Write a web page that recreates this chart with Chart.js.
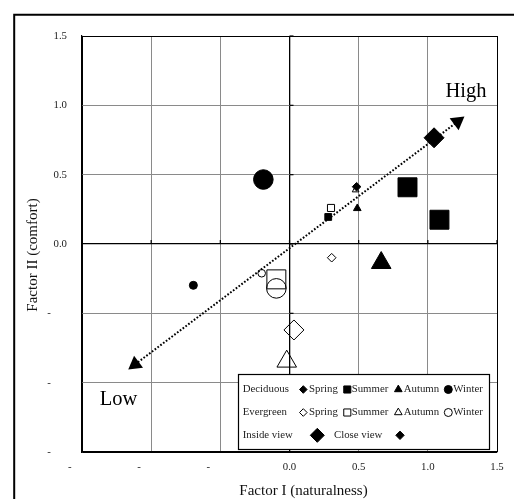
<!DOCTYPE html>
<html>
<head>
<meta charset="utf-8">
<script src="https://cdn.jsdelivr.net/npm/chart.js@4.4.0/dist/chart.umd.min.js"></script>
<style>
  html, body { margin: 0; padding: 0; background: #fff; }
  #wrap { position: relative; width: 514px; height: 499px; }
</style>
</head>
<body>
<div id="wrap"><canvas id="factorChart"></canvas></div>
<script>
// seasons, order used by every series below
const seasons = ['Spring', 'Summer', 'Autumn', 'Winter'];
const tickValues = [-1.5, -1.0, -0.5, 0.0, 0.5, 1.0, 1.5];

// Deciduous (filled marks)
const decInsideX = [1.045, 0.853, 0.663, -0.189];
const decInsideY = [0.766, 0.409, -0.136, 0.465];
const decCloseX = [0.485, 0.280, 0.490, -0.695];
const decCloseY = [0.413, 0.195, 0.257, -0.298];
// second large filled square
const decExtraX = [1.084];
const decExtraY = [0.175];

// Evergreen (open marks)
const evgInsideX = [0.032, -0.095, -0.020, -0.095];
const evgInsideY = [-0.620, -0.255, -0.847, -0.320];
const evgCloseX = [0.305, 0.300, 0.478, -0.201];
const evgCloseY = [-0.099, 0.260, 0.390, -0.211];

// Low -> High arrow
const trendX = [-1.116, 1.215];
const trendY = [-0.868, 0.882];

const shapes = ['rectRot', 'rect', 'triangle', 'circle'];
const bigRadius = [10, 13.4, 11.3, 9.8];
const smallRadius = [4.3, 4.8, 4.4, 4];
const serif = "'Liberation Serif', 'Times New Roman', serif";

function pts(xs, ys) {
    return xs.map((x, i) => ({ x: x, y: ys[i] }));
}

function markSet(label, xs, ys, radii, filled) {
    return {
        label: label,
        data: pts(xs, ys),
        pointStyle: ctx => shapes[ctx.dataIndex],
        pointRadius: ctx => radii[ctx.dataIndex],
        pointBackgroundColor: filled ? '#000' : 'rgba(0,0,0,0)',
        pointBorderColor: '#000',
        pointBorderWidth: 1,
        order: filled ? 1 : 2
    };
}

function drawMark(ctx, style, x, y, r, filled) {
    ctx.beginPath();
    if (style === 'circle') {
        ctx.arc(x, y, r, 0, Math.PI * 2);
    } else if (style === 'rect') {
        const s = r * Math.SQRT1_2;
        ctx.rect(x - s, y - s, 2 * s, 2 * s);
    } else if (style === 'rectRot') {
        ctx.moveTo(x - r, y); ctx.lineTo(x, y - r); ctx.lineTo(x + r, y); ctx.lineTo(x, y + r);
        ctx.closePath();
    } else {
        ctx.moveTo(x, y - r); ctx.lineTo(x + 0.866 * r, y + 0.5 * r); ctx.lineTo(x - 0.866 * r, y + 0.5 * r);
        ctx.closePath();
    }
    ctx.fillStyle = filled ? '#000' : '#fff';
    ctx.fill();
    ctx.lineWidth = 1;
    ctx.strokeStyle = '#000';
    ctx.stroke();
}

// small tick marks on the zero axes
const zeroTicks = {
    id: 'zeroTicks',
    beforeDatasetsDraw(chart) {
        const { ctx, scales: { x, y } } = chart;
        const x0 = x.getPixelForValue(0), y0 = y.getPixelForValue(0);
        ctx.save();
        ctx.strokeStyle = '#000';
        ctx.lineWidth = 1.2;
        tickValues.forEach(v => {
            const py = y.getPixelForValue(v);
            ctx.beginPath(); ctx.moveTo(x0, py); ctx.lineTo(x0 + 4, py); ctx.stroke();
            const px = x.getPixelForValue(v);
            ctx.beginPath(); ctx.moveTo(px, y0); ctx.lineTo(px, y0 - 4); ctx.stroke();
        });
        ctx.restore();
    }
};

// legend box, labels, titles and frame
const decorations = {
    id: 'decorations',
    afterDatasetsDraw(chart) {
        const ctx = chart.ctx;
        ctx.save();
        // legend box
        ctx.fillStyle = '#fff';
        ctx.fillRect(238.5, 374.5, 251, 75);
        ctx.strokeStyle = '#000';
        ctx.lineWidth = 1.2;
        ctx.strokeRect(238.5, 374.5, 251, 75);

        ctx.font = '10.8px ' + serif;
        ctx.textBaseline = 'middle';
        ctx.textAlign = 'left';
        const markX = [303.3, 347.3, 398.3, 448.3];
        const textX = [309, 351.7, 403.7, 453.3];
        const legR = [3.8, 5, 4.4, 4];
        const rows = [['Deciduous', 389.5, true], ['Evergreen', 412.5, false]];
        rows.forEach(([name, ry, filled]) => {
            ctx.fillStyle = '#222';
            ctx.fillText(name, 242.7, ry);
            seasons.forEach((s, i) => {
                drawMark(ctx, shapes[i], markX[i], ry, legR[i], filled);
                ctx.fillStyle = '#222';
                ctx.fillText(s, textX[i], ry);
            });
        });
        ctx.fillStyle = '#222';
        ctx.fillText('Inside view', 242.7, 435.3);
        drawMark(ctx, 'rectRot', 317.3, 435.3, 7, true);
        ctx.fillStyle = '#222';
        ctx.fillText('Close view', 334, 435.3);
        drawMark(ctx, 'rectRot', 400, 435.3, 4.2, true);

        // High / Low
        ctx.fillStyle = '#000';
        ctx.font = '20.5px ' + serif;
        ctx.textAlign = 'center';
        ctx.fillText('High', 466, 92);
        ctx.fillText('Low', 118.5, 400);

        // axis titles
        ctx.font = '15px ' + serif;
        ctx.fillStyle = '#111';
        ctx.fillText('Factor I (naturalness)', 303.5, 491);
        ctx.translate(33.5, 255);
        ctx.rotate(-Math.PI / 2);
        ctx.fillText('Factor II (comfort)', 0, 0);
        ctx.restore();

        // outer frame
        ctx.save();
        ctx.strokeStyle = '#000';
        ctx.lineWidth = 2;
        ctx.beginPath();
        ctx.moveTo(14.2, 499);
        ctx.lineTo(14.2, 14.7);
        ctx.lineTo(514, 14.7);
        ctx.stroke();
        ctx.restore();
    }
};

const gridColor = ctx => {
    const v = ctx.tick ? ctx.tick.value : 1;
    return (Math.abs(v) < 1e-9 || Math.abs(Math.abs(v) - 1.5) < 1e-9) ? '#000' : '#8a8a8a';
};
const gridWidth = ctx => {
    const v = ctx.tick ? ctx.tick.value : 1;
    return Math.abs(v) < 1e-9 ? 1.3 : 1;
};

new Chart(document.getElementById('factorChart'), {
    type: 'scatter',
    data: {
        datasets: [
            markSet('Deciduous inside', decInsideX, decInsideY, bigRadius, true),
            markSet('Deciduous close', decCloseX, decCloseY, smallRadius, true),
            {
                label: 'Deciduous summer inside',
                data: pts(decExtraX, decExtraY),
                pointStyle: 'rect',
                pointRadius: bigRadius[1],
                pointBackgroundColor: '#000',
                pointBorderColor: '#000',
                pointBorderWidth: 1,
                order: 1
            },
            markSet('Evergreen inside', evgInsideX, evgInsideY, bigRadius, false),
            markSet('Evergreen close', evgCloseX, evgCloseY, [4.3, 5, 3.9, 3.8], false),
            {
                label: 'Trend',
                data: pts(trendX, trendY),
                showLine: true,
                borderColor: '#000',
                borderWidth: 2,
                borderDash: [1.7, 1.8],
                pointStyle: 'triangle',
                pointRotation: [233, 53],
                pointRadius: 8.6,
                pointBackgroundColor: '#000',
                pointBorderWidth: 0,
                order: 3
            }
        ]
    },
    options: {
        responsive: true,
        maintainAspectRatio: false,
        animation: false,
        events: [],
        layout: { padding: { left: 0, top: 36, right: 17, bottom: 0 } },
        plugins: { legend: { display: false }, tooltip: { enabled: false } },
        scales: {
            x: {
                type: 'linear',
                min: -1.5,
                max: 1.5,
                afterFit: scale => { scale.height = 47; },
                afterBuildTicks: scale => { scale.ticks = tickValues.map(v => ({ value: v })); },
                grid: { color: gridColor, lineWidth: gridWidth, drawTicks: false },
                border: { display: true, color: '#000', width: 1.2 },
                ticks: {
                    padding: 9,
                    color: '#222',
                    font: { family: serif, size: 10.8 },
                    maxRotation: 0,
                    autoSkip: false,
                    callback: v => v < 0 ? '-' + ' '.repeat(9) : v.toFixed(1)
                }
            },
            y: {
                type: 'linear',
                min: -1.5,
                max: 1.5,
                afterFit: scale => { scale.width = 82; },
                afterBuildTicks: scale => { scale.ticks = tickValues.map(v => ({ value: v })); },
                grid: { color: gridColor, lineWidth: gridWidth, drawTicks: false },
                border: { display: true, color: '#000', width: 1.2 },
                ticks: {
                    padding: 15,
                    color: '#222',
                    font: { family: serif, size: 10.8 },
                    autoSkip: false,
                    callback: v => v < 0 ? '-' + ' '.repeat(6) : v.toFixed(1)
                }
            }
        }
    },
    plugins: [zeroTicks, decorations]
});
</script>
</body>
</html>
